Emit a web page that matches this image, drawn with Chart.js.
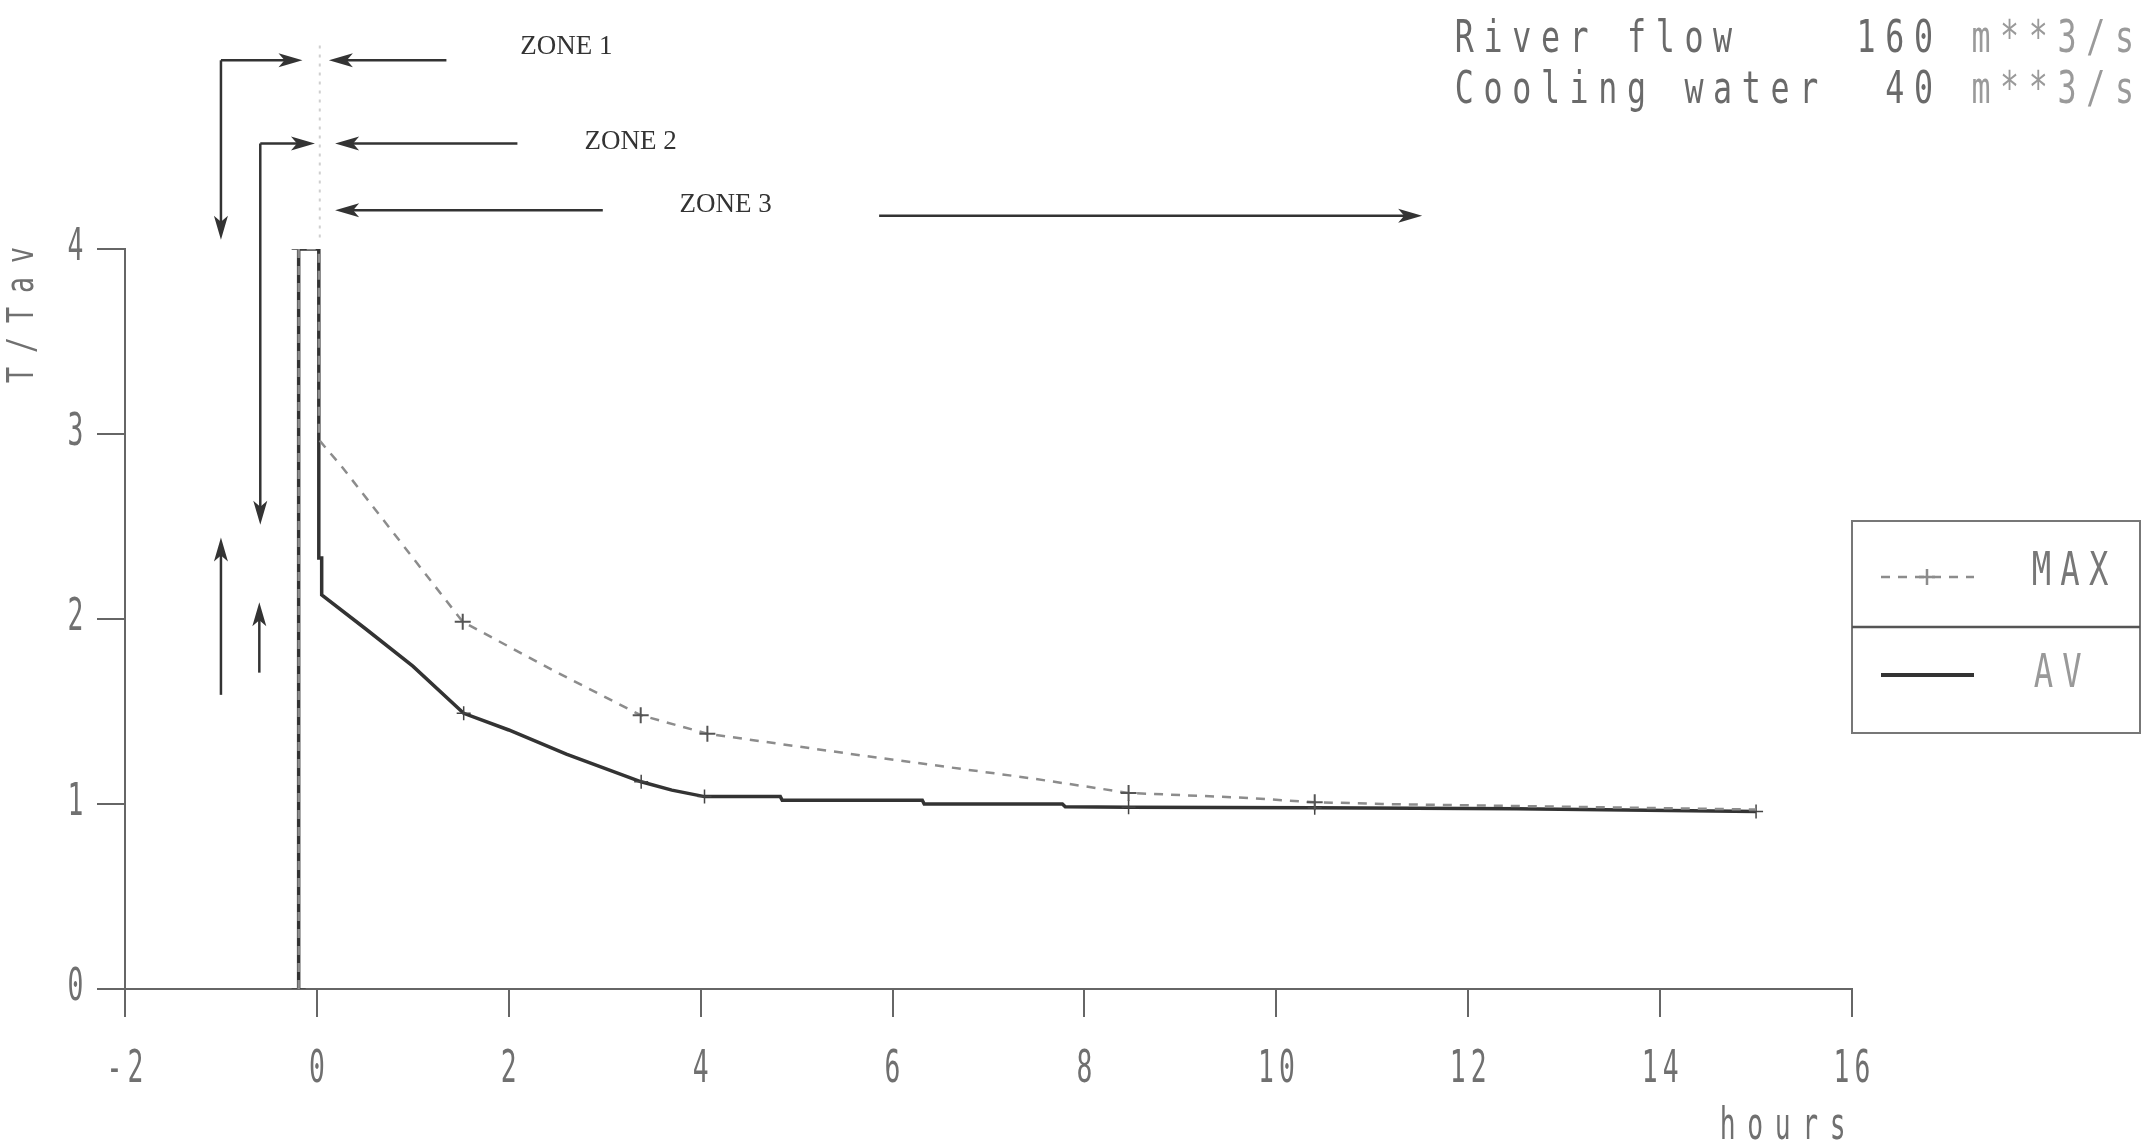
<!DOCTYPE html>
<html>
<head>
<meta charset="UTF-8">
<style>
    html, body { margin: 0; padding: 0; background: #fff; }
    canvas { display: block; }
</style>
</head>
<body>
<canvas id="myChart" width="2150" height="1147"></canvas>

<script src="https://cdn.jsdelivr.net/npm/chart.js"></script>

<script>
    // T/Tav against time (hours)
    const avX  = [-0.19, -0.19, 0.02, 0.02, 0.05, 0.05, 0.5, 1.0, 1.53, 2.0, 2.6, 3.38, 3.7, 4.04, 4.83, 4.85, 6.31, 6.33, 7.77, 7.8, 8.46, 10.4, 12.5, 15.0];
    const avY  = [0, 4.0, 4.0, 2.33, 2.33, 2.13, 1.95, 1.745, 1.49, 1.40, 1.27, 1.12, 1.075, 1.04, 1.04, 1.02, 1.02, 1.0, 1.0, 0.985, 0.983, 0.98, 0.975, 0.96];
    const maxX = [-0.19, -0.19, 0.02, 0.02, 0.1, 0.25, 1.52, 2.47, 3.375, 4.07, 5.71, 7.43, 8.46, 9.61, 10.4, 11.1, 15.0];
    const maxY = [0, 4.0, 4.0, 2.97, 2.92, 2.83, 1.985, 1.72, 1.48, 1.38, 1.26, 1.14, 1.06, 1.035, 1.01, 1.0, 0.97];
    const avMarks  = [-0.19, 1.53, 3.38, 4.04, 8.46, 10.4, 15.0];
    const maxMarks = [1.52, 3.375, 4.07, 8.46, 10.4];

    const xTicks = [-2, 0, 2, 4, 6, 8, 10, 12, 14, 16];
    const yTicks = [0, 1, 2, 3, 4];
    const headerLines = ['River flow    160 m**3/s', 'Cooling water  40 m**3/s'];

    // zone marks, in axis units (hours, T/Tav); arrow head at the second point
    const zoneLabels = [
        { text: 'ZONE 1', x: 2.12, y: 5.09 },
        { text: 'ZONE 2', x: 2.79, y: 4.58 },
        { text: 'ZONE 3', x: 3.78, y: 4.24 }
    ];
    const zoneArrows = [
        [-1.0, 5.02, -1.0, 4.05],
        [-1.0, 5.02, -0.15, 5.02],
        [1.35, 5.02, 0.125, 5.02],
        [-0.59, 4.57, -0.59, 2.51],
        [-0.59, 4.57, -0.02, 4.57],
        [2.09, 4.57, 0.19, 4.57],
        [2.98, 4.21, 0.19, 4.21],
        [5.86, 4.18, 11.52, 4.18],
        [-1.0, 1.59, -1.0, 2.44],
        [-0.6, 1.71, -0.6, 2.09]
    ];

    const AV_COLOR = '#333';
    const MAX_COLOR = '#8c8c8c';
    const TEXT_COLOR = '#707070';

    function toPoints(xs, ys) {
        return xs.map((x, i) => ({ x: x, y: ys[i] }));
    }

    // plotter style lettering: fixed pitch, squeezed glyphs
    function pitchText(ctx, str, left, cy, pitch, sx) {
        for (let i = 0; i < str.length; i++) {
            ctx.save();
            ctx.translate(left + (i + 0.5) * pitch, cy);
            ctx.scale(sx, 1);
            ctx.fillText(str[i], 0, 0);
            ctx.restore();
        }
    }

    function arrow(ctx, x1, y1, x2, y2) {
        const a = Math.atan2(y2 - y1, x2 - x1);
        ctx.beginPath();
        ctx.moveTo(x1, y1);
        ctx.lineTo(x2 - 10 * Math.cos(a), y2 - 10 * Math.sin(a));
        ctx.stroke();
        ctx.save();
        ctx.translate(x2, y2);
        ctx.rotate(a);
        ctx.beginPath();
        ctx.moveTo(0, 0);
        ctx.lineTo(-24, -7);
        ctx.lineTo(-18, 0);
        ctx.lineTo(-24, 7);
        ctx.closePath();
        ctx.fill();
        ctx.restore();
    }

    const decor = {
        id: 'decor',
        afterDraw(chart) {
            const ctx = chart.ctx;
            const xs = chart.scales.x, ys = chart.scales.y;
            const area = chart.chartArea;
            ctx.save();
            ctx.textAlign = 'center';
            ctx.textBaseline = 'middle';
            ctx.fillStyle = TEXT_COLOR;
            ctx.font = '44px "DejaVu Sans Mono"';

            // tick labels
            xs.ticks.forEach(t => {
                const s = String(t.value);
                const cx = xs.getPixelForValue(t.value);
                pitchText(ctx, s, cx - s.length * 10.5, 1071, 21, 0.6);
            });
            ys.ticks.forEach(t => {
                const s = String(t.value);
                pitchText(ctx, s, 86 - s.length * 21, ys.getPixelForValue(t.value), 21, 0.6);
            });

            pitchText(ctx, 'hours', 1714, 1128, 27.5, 0.6);

            ctx.save();
            ctx.translate(23, 315);
            ctx.rotate(-Math.PI / 2);
            ctx.font = '38px "DejaVu Sans Mono"';
            pitchText(ctx, 'T/Tav', -75, 0, 30, 0.7);
            ctx.restore();

            // run header, unit part printed fainter
            ctx.font = '44px "DejaVu Sans Mono"';
            headerLines.forEach((line, i) => {
                const cut = line.indexOf('m');
                ctx.fillStyle = '#6a6a6a';
                pitchText(ctx, line.slice(0, cut), 1450, 41 + i * 51, 28.7, 0.72);
                ctx.fillStyle = '#9a9a9a';
                pitchText(ctx, line.slice(cut), 1450 + cut * 28.7, 41 + i * 51, 28.7, 0.72);
            });

            // faint guide above the pulse
            ctx.strokeStyle = '#cfcfcf';
            ctx.lineWidth = 2;
            ctx.setLineDash([3, 6]);
            ctx.beginPath();
            ctx.moveTo(xs.getPixelForValue(0.03), ys.getPixelForValue(5.1));
            ctx.lineTo(xs.getPixelForValue(0.03), ys.getPixelForValue(4.05));
            ctx.stroke();
            ctx.setLineDash([]);

            // zones
            ctx.strokeStyle = '#333';
            ctx.fillStyle = '#333';
            ctx.lineWidth = 2.5;
            zoneArrows.forEach(a => {
                arrow(ctx, xs.getPixelForValue(a[0]), ys.getPixelForValue(a[1]),
                    xs.getPixelForValue(a[2]), ys.getPixelForValue(a[3]));
            });
            ctx.font = '27px "Liberation Serif"';
            ctx.textAlign = 'left';
            zoneLabels.forEach(z => {
                ctx.fillText(z.text, xs.getPixelForValue(z.x), ys.getPixelForValue(z.y));
            });

            // legend box
            const L = area.right, R = 2140, T = 521, B = 733, D = 627;
            ctx.strokeStyle = '#777';
            ctx.lineWidth = 2;
            ctx.strokeRect(L, T, R - L, B - T);
            ctx.strokeStyle = '#555';
            ctx.lineWidth = 2.5;
            ctx.beginPath();
            ctx.moveTo(L, D);
            ctx.lineTo(R, D);
            ctx.stroke();

            ctx.strokeStyle = MAX_COLOR;
            ctx.lineWidth = 2.5;
            ctx.setLineDash([9, 8]);
            ctx.beginPath();
            ctx.moveTo(1881, 577);
            ctx.lineTo(1974, 577);
            ctx.stroke();
            ctx.setLineDash([]);
            ctx.beginPath();
            ctx.moveTo(1927, 569); ctx.lineTo(1927, 585);
            ctx.moveTo(1919, 577); ctx.lineTo(1935, 577);
            ctx.stroke();

            ctx.strokeStyle = AV_COLOR;
            ctx.lineWidth = 4;
            ctx.beginPath();
            ctx.moveTo(1881, 675);
            ctx.lineTo(1974, 675);
            ctx.stroke();

            ctx.textAlign = 'center';
            ctx.font = '46px "DejaVu Sans Mono"';
            ctx.fillStyle = '#777';
            pitchText(ctx, chart.data.datasets[0].label, 2027, 573, 28.7, 0.7);
            ctx.fillStyle = '#999';
            pitchText(ctx, chart.data.datasets[1].label, 2029, 675, 28.7, 0.7);
            ctx.restore();
        }
    };

    function markRadius(marks, r) {
        return c => (c.raw && marks.includes(c.raw.x)) ? r : 0;
    }

    function chart() {
        const ctx = document.getElementById('myChart');
        new Chart(ctx, {
            type: 'scatter',
            data: {
                datasets: [{
                    label: 'MAX',
                    data: toPoints(maxX, maxY),
                    showLine: true,
                    borderColor: MAX_COLOR,
                    backgroundColor: MAX_COLOR,
                    borderWidth: 2.5,
                    borderDash: [9, 8],
                    pointStyle: 'cross',
                    pointRadius: markRadius(maxMarks, 8),
                    pointBorderColor: '#555',
                    pointBorderWidth: 2
                }, {
                    label: 'AV',
                    data: toPoints(avX, avY),
                    showLine: true,
                    borderColor: AV_COLOR,
                    backgroundColor: AV_COLOR,
                    borderWidth: 3.5,
                    pointStyle: 'cross',
                    pointRadius: markRadius(avMarks, 7),
                    pointBorderColor: '#444',
                    pointBorderWidth: 1.5
                }]
            },
            options: {
                responsive: false,
                animation: false,
                devicePixelRatio: 1,
                layout: {
                    padding: { left: 0, top: 249, right: 298, bottom: 0 }
                },
                plugins: {
                    legend: { display: false },
                    tooltip: { enabled: false }
                },
                scales: {
                    x: {
                        type: 'linear',
                        min: -2,
                        max: 16,
                        afterBuildTicks: s => { s.ticks = xTicks.map(v => ({ value: v })); },
                        afterFit: s => { s.height = 158; },
                        ticks: { display: false },
                        grid: { drawOnChartArea: false, tickLength: 28, color: '#666', lineWidth: 2 },
                        border: { display: true, color: '#666', width: 2 }
                    },
                    y: {
                        type: 'linear',
                        min: 0,
                        max: 4,
                        afterBuildTicks: s => { s.ticks = yTicks.map(v => ({ value: v })); },
                        afterFit: s => { s.width = 125; },
                        ticks: { display: false },
                        grid: { drawOnChartArea: false, tickLength: 28, color: '#666', lineWidth: 2 },
                        border: { display: true, color: '#666', width: 2 }
                    }
                }
            },
            plugins: [decor]
        });
    }

    chart();
</script>
</body>
</html>
